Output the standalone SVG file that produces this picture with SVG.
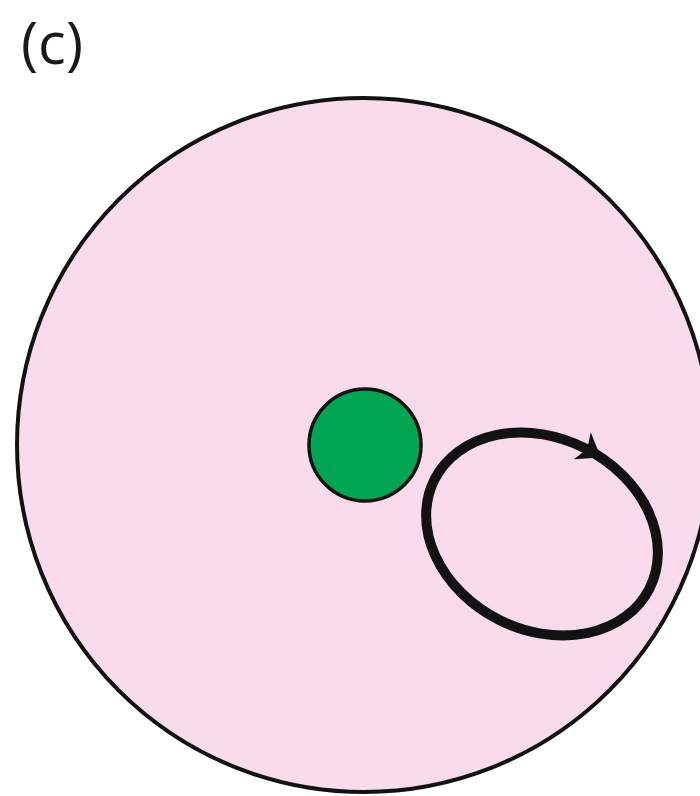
<svg xmlns="http://www.w3.org/2000/svg" width="700" height="796" viewBox="0 0 700 796">
<style>
.lbl{font-family:"Open Sans","Liberation Sans",sans-serif;font-size:58px;fill:#1a1a1a}
.ink{stroke:#121212;fill:none}
</style>
<rect width="700" height="796" fill="#ffffff"/>
<text class="lbl" x="21" y="64">(c)</text>
<g id="outer">
<circle cx="364" cy="445" r="347" fill="#fadbeb" stroke="#121212" stroke-width="4"/>
</g>
<g id="center">
<circle cx="365" cy="445" r="56" fill="#00a551" stroke="#121212" stroke-width="3.5"/>
</g>
<g id="connectors">
<ellipse class="ink" cx="542" cy="534" rx="120.5" ry="96" transform="rotate(27 542 534)" stroke-width="10"/>
<path d="M14,0 L-8,-16 L-2,0 L-8,16 Z" fill="#121212" transform="translate(589,450) rotate(32)"/>
</g>
</svg>
